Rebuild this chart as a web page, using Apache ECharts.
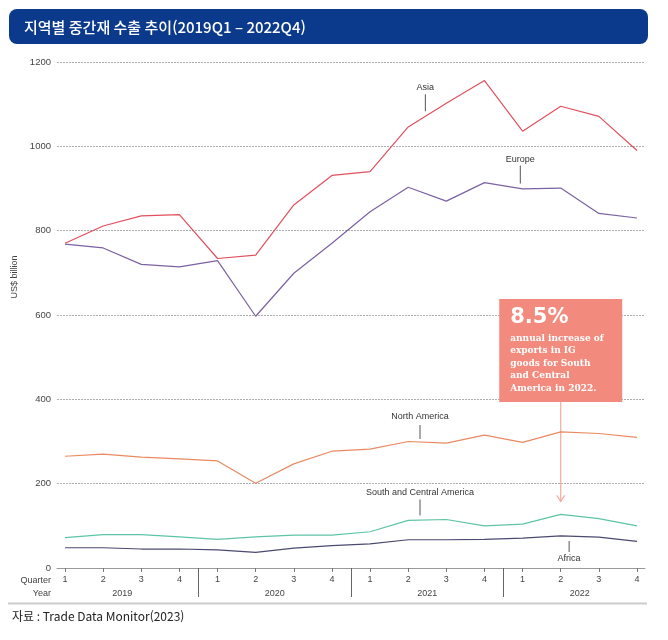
<!DOCTYPE html>
<html lang="ko">
<head>
<meta charset="UTF-8">
<title>지역별 중간재 수출 추이</title>
<style>
  html, body { margin: 0; padding: 0; background: #fff; }
  #main { width: 668px; height: 640px; }
</style>
</head>
<body>
<div id="main"></div>
<script src="https://cdn.jsdelivr.net/npm/echarts@6/dist/echarts.min.js"></script>
<script>
// 2019Q1 ~ 2022Q4, US$ billion
var quarters = ['1', '2', '3', '4', '1', '2', '3', '4', '1', '2', '3', '4', '1', '2', '3', '4'];
var years = ['2019', '2020', '2021', '2022'];
var asia = [770, 811, 835, 838, 734, 742, 861, 931, 940, 1046, 1102, 1156, 1036, 1095, 1071, 990];
var europe = [768, 759, 720, 714, 729, 597, 699, 770, 845, 903, 870, 914, 899, 901, 841, 830];
var northAmerica = [265, 270, 263, 259, 254, 201, 247, 277, 282, 300, 296, 315, 298, 323, 319, 310];
var southCentral = [72, 79, 79, 74, 68, 74, 78, 78, 86, 113, 115, 100, 104, 127, 117, 100];
var africa = [48, 48, 45, 45, 43, 37, 47, 53, 57, 67, 67, 68, 71, 76, 73, 63];
var yTicks = [0, 200, 400, 600, 800, 1000, 1200];

var FONT = '"Liberation Sans", Arial, sans-serif';
var KFONT = '"Noto Sans CJK KR", "Noto Sans", sans-serif';

function pairs(arr) {
  return arr.map(function (v, i) { return [i, v]; });
}
// value on the line at a fractional quarter index
function at(arr, x) {
  var i = Math.floor(x), f = x - i;
  return arr[i] + (arr[i + 1] - arr[i]) * f;
}
// series name with a short leader line
function tag(name, arr, x, gap, len, below, dist) {
  return {
    silent: true,
    animation: false,
    symbol: 'rect',
    symbolSize: [1, len],
    symbolOffset: [0, below ? gap + len / 2 : -(gap + len / 2)],
    itemStyle: { color: '#555' },
    label: {
      show: true,
      position: below ? 'bottom' : 'top',
      distance: dist,
      formatter: name,
      color: '#333',
      fontSize: 9,
      fontFamily: FONT
    },
    data: [{ coord: [x, at(arr, x)] }]
  };
}
function line(name, arr, color, mark) {
  return {
    name: name,
    type: 'line',
    data: pairs(arr),
    symbol: 'none',
    lineStyle: { color: color, width: 1.2 },
    itemStyle: { color: color },
    markPoint: mark
  };
}

var allQ = quarters.map(function (q, i) { return i; });

var chart = echarts.init(document.getElementById('main'));
var option = {
  backgroundColor: '#fff',
  animation: false,
  grid: { left: 57, right: 23, top: 62, bottom: 72 },
  xAxis: [{
    type: 'value',
    min: -0.21,
    max: 15.21,
    axisLine: { show: true, lineStyle: { color: '#999', width: 1 } },
    axisTick: { show: true, customValues: allQ, length: 4, lineStyle: { color: '#777' } },
    axisLabel: {
      customValues: allQ,
      formatter: function (v) { return quarters[Math.round(v)]; },
      margin: 7, fontSize: 9, color: '#444', fontFamily: FONT
    },
    splitLine: { show: false }
  }, {
    type: 'value',
    position: 'bottom',
    min: -0.21,
    max: 15.21,
    axisLine: { show: false },
    axisTick: { show: true, customValues: [3.5, 7.5, 11.5], length: 29, lineStyle: { color: '#666' } },
    axisLabel: {
      customValues: [1.5, 5.5, 9.5, 13.5],
      formatter: function (v) { return years[Math.floor(v / 4)]; },
      margin: 21, fontSize: 9, color: '#444', fontFamily: FONT
    },
    splitLine: { show: false }
  }],
  yAxis: {
    type: 'value',
    min: yTicks[0],
    max: yTicks[yTicks.length - 1],
    interval: 200,
    name: 'US$ billion',
    nameLocation: 'middle',
    nameGap: 34,
    nameTextStyle: { fontSize: 9, color: '#444', fontFamily: FONT, padding: [0, 0, 0, 76] },
    axisLine: { show: false },
    axisTick: { show: false },
    axisLabel: {
      margin: 6, fontSize: 9.5, color: '#444', fontFamily: FONT,
      formatter: function (v) { return String(v); }
    },
    splitLine: { lineStyle: { color: '#999', type: [2, 1], width: 0.8 } }
  },
  series: [
    line('Asia', asia, '#e0505f', tag('Asia', asia, 9.45, 5, 17, false, 2)),
    line('Europe', europe, '#7b62a3', tag('Europe', europe, 11.94, 5, 18, false, 2)),
    line('North America', northAmerica, '#e98a61', tag('North America', northAmerica, 9.31, 3, 14, false, 4)),
    line('South and Central America', southCentral, '#5ec4a6', tag('South and Central America', southCentral, 9.31, 4.5, 16, false, 3)),
    line('Africa', africa, '#4b4a70', tag('Africa', africa, 13.22, 4.7, 11, true, 2))
  ]
};
chart.setOption(option);

// callout box pointing at South and Central America, 2022 Q2
var p = chart.convertToPixel({ gridIndex: 0 }, [13, southCentral[13]]);
var boxW = 123, boxH = 103, boxTop = 299;
var bx = p[0] - boxW / 2;
var tip = p[1] - 13;

chart.setOption({
  graphic: [
    { type: 'rect', shape: { x: 9, y: 9, width: 639, height: 35, r: 8 }, style: { fill: '#0b3a8c' } },
    { type: 'text', x: 24, y: 27, style: {
      text: '지역별 중간재 수출 추이(2019Q1 – 2022Q4)', fill: '#fff',
      font: '500 15px ' + KFONT, verticalAlign: 'middle' } },
    { type: 'text', x: 51, y: 581, style: { text: 'Quarter', fill: '#444', font: '9px ' + FONT, align: 'right', verticalAlign: 'middle' } },
    { type: 'text', x: 51, y: 594, style: { text: 'Year', fill: '#444', font: '9px ' + FONT, align: 'right', verticalAlign: 'middle' } },
    { type: 'line', shape: { x1: 8, y1: 603.5, x2: 647, y2: 603.5 }, style: { stroke: '#cccccc', lineWidth: 2 } },
    { type: 'text', x: 12, y: 616, style: {
      text: '자료 : Trade Data Monitor(2023)', fill: '#222', font: '12px ' + KFONT, verticalAlign: 'middle' } },
    { type: 'line', shape: { x1: p[0], y1: boxTop + boxH, x2: p[0], y2: tip }, style: { stroke: '#f3aaa1', lineWidth: 1.2 } },
    { type: 'polyline', shape: { points: [[p[0] - 4, tip - 6], [p[0], tip], [p[0] + 4, tip - 6]] }, style: { stroke: '#f3aaa1', lineWidth: 1.2, fill: null } },
    { type: 'rect', shape: { x: bx, y: boxTop, width: boxW, height: boxH }, style: { fill: '#f28b7e' } },
    { type: 'text', x: bx + 11, y: boxTop + 19, style: {
      text: '8.5%', fill: '#fff', font: 'bold 21px "DejaVu Sans", sans-serif', verticalAlign: 'middle' } },
    { type: 'text', x: bx + 11, y: boxTop + 33, style: {
      text: 'annual increase of\nexports in IG\ngoods for South\nand Central\nAmerica in 2022.',
      fill: '#fff', font: 'bold 9px "DejaVu Serif", serif', lineHeight: 12.6, verticalAlign: 'top' } }
  ]
});

window.onresize = function () {
  chart.resize();
};
</script>
</body>
</html>
